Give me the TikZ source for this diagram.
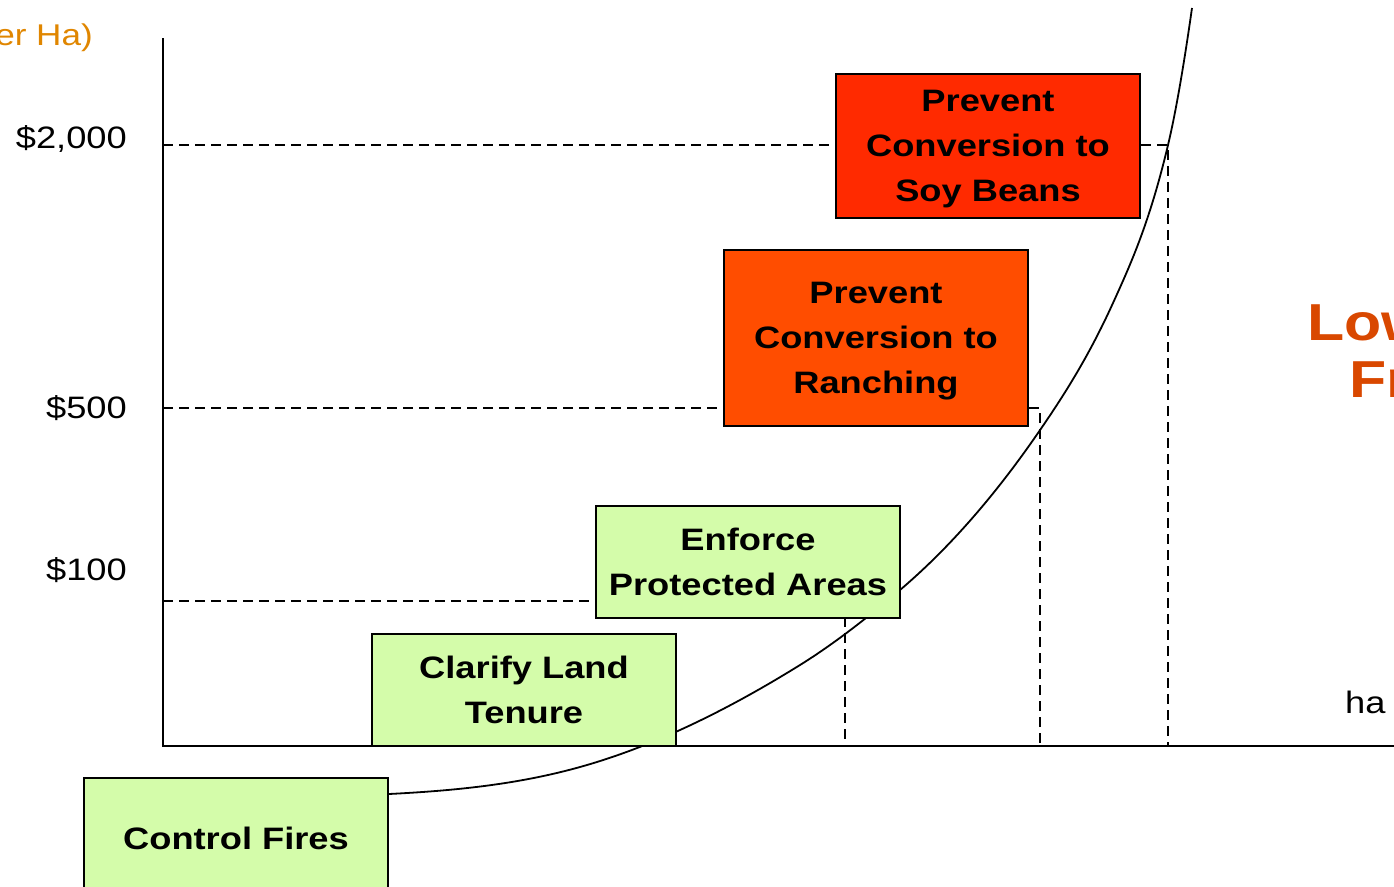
\documentclass[tikz,border=0pt]{standalone}
\usepackage{fontspec}
\setmainfont{Liberation Sans}[FakeStretch=1.17]
\definecolor{soyred}{RGB}{255,42,0}
\definecolor{ranchred}{RGB}{255,77,0}
\definecolor{lowgreen}{RGB}{212,252,170}
\definecolor{unitorange}{RGB}{224,134,0}
\definecolor{frontred}{RGB}{217,72,0}
\begin{document}
\begin{tikzpicture}[x=1pt,y=-1pt,
  box/.style={draw=black, line width=2pt, align=center, inner sep=0pt,
    minimum width=304pt, font=\fontsize{31}{45}\selectfont\bfseries},
  guide/.style={dash pattern=on 10pt off 6pt, line width=2pt},
  axis/.style={line width=2pt},
  curve/.style={line width=1.8pt},
  tick/.style={inner sep=0pt, anchor=base east, font=\fontsize{31}{36}\selectfont},
  note/.style={inner sep=0pt, anchor=base west, font=\fontsize{52}{60}\selectfont\bfseries, text=frontred}]
\useasboundingbox (0,0) rectangle (1394,886);
\clip (0,0) rectangle (1394,886);

% axes corner and cost levels
\coordinate (o) at (163,746);
\coordinate (ytop) at (163,38);
\coordinate (xend) at (1400,746);
\coordinate (y2000) at (163,145);
\coordinate (y500) at (163,408);
\coordinate (y100) at (163,601);
\coordinate (c2000) at (1168,145);
\coordinate (c500) at (1040,408);
\coordinate (c100) at (845,601);

% box outlines are placed first so guides can refer to them
\path
  (988,146) node[box, minimum height=144pt] (soy) {}
  (876,338) node[box, minimum height=176pt] (ranch) {}
  (748,562) node[box, minimum height=112pt] (enforce) {}
  (524,690) node[box, minimum height=112pt] (clarify) {}
  (236,838) node[box, minimum height=120pt] (fires) {};

% dashed guide lines
\draw[guide] (y2000) -- (soy.west |- y2000);
\draw[guide] (soy.east |- c2000) -- (c2000) -- (c2000 |- o);
\draw[guide] (y500) -- (ranch.west |- y500);
\draw[guide] (ranch.east |- c500) -- (c500) -- (c500 |- o);
\draw[guide] (y100) -- (enforce.west |- y100);
\draw[guide] (c100) -- (c100 |- o);

% axes
\draw[axis] (ytop) -- (o) -- (xend);

% rising cost curve, built from tangent-matched cubic pieces
\coordinate (k0) at (fires.east |- 0,794);
\draw[curve] (k0)
  .. controls (452,790.8) and (516,784.9) .. (580,767)
  .. controls (653.3,746.5) and (726.7,710.5) .. (800,665)
  .. controls (833.3,644.3) and (866.7,618.3) .. (900,590)
  .. controls (946,550.9) and (992,499.7) .. (1038,433)
  .. controls (1063,396.75) and (1088,358) .. (1113,303)
  .. controls (1131.33,262.7) and (1149.67,222) .. (c2000)
  .. controls (1176,111.4) and (1184,64) .. (1192,8);

% action boxes
\node[box, fill=soyred, minimum height=144pt] at (soy) {Prevent\\Conversion to\\\smash{Soy Beans}};
\node[box, fill=ranchred, minimum height=176pt] at (ranch) {Prevent\\Conversion to\\\smash{Ranching}};
\node[box, fill=lowgreen, minimum height=112pt] at (enforce) {Enforce\\Protected Areas};
\node[box, fill=lowgreen, minimum height=112pt] at (clarify) {Clarify Land\\Tenure};
\node[box, fill=lowgreen, minimum height=120pt] at (fires) {Control Fires};

% axis labels
\node[tick] (t2000) at (127,148) {\$2,000};
\node[tick] (t500) at (127,418) {\$500};
\node[tick] (t100) at (127,580) {\$100};
\node[inner sep=0pt, anchor=base west, font=\fontsize{31}{36}\selectfont] (ha) at (1345,713) {ha};
\node[inner sep=0pt, anchor=base east, font=\fontsize{30}{34}\selectfont, text=unitorange] (unit) at (93,45) {er Ha)};

% side caption
\node[note] (low) at (1307,340) {Low};
\node[note] (fr) at (1349,397) {Fr};
\end{tikzpicture}
\end{document}
